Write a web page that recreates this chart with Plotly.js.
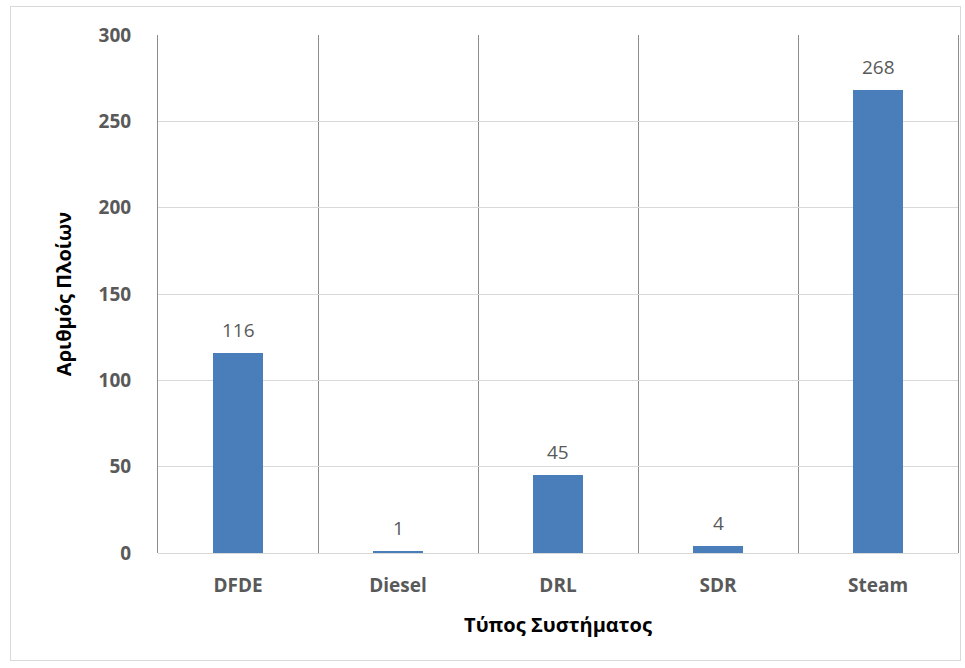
<!DOCTYPE html>
<html>
<head>
<meta charset="utf-8">
<script src="https://cdn.plot.ly/plotly-3.0.1.min.js"></script>
<style>
  html, body { margin: 0; padding: 0; background: #ffffff; }
  #frame { position: absolute; left: 10px; top: 6px; width: 951px; height: 655px; border: 1px solid #d9d9d9; box-sizing: border-box; pointer-events: none; z-index: 5; }
  #chart { width: 965px; height: 668px; }
</style>
</head>
<body>
<div id="frame"></div>
<div id="chart"></div>
<script>
const categories = ["DFDE", "Diesel", "DRL", "SDR", "Steam"];
const shipCounts = [116, 1, 45, 4, 268];
const yTickValues = [0, 50, 100, 150, 200, 250, 300];
const xTitle = "Τύπος Συστήματος";
const yTitle = "Αριθμός Πλοίων";

const FONT = "'Open Sans', 'Noto Sans', sans-serif";

const trace = {
  type: "bar",
  x: categories,
  y: shipCounts,
  width: 0.31,
  marker: { color: "#4a7ebb" },
  hoverinfo: "x+y"
};

const annotations = categories.map((c, i) => ({
  x: c,
  y: shipCounts[i],
  xref: "x",
  yref: "y",
  text: String(shipCounts[i]),
  showarrow: false,
  yanchor: "bottom",
  yshift: 8,
  font: { family: FONT, size: 19, color: "#595959" }
}));

const layout = {
  width: 965,
  height: 668,
  margin: { l: 158, r: 7, t: 35, b: 115 },
  paper_bgcolor: "#ffffff",
  plot_bgcolor: "#ffffff",
  showlegend: false,
  bargap: 0,
  xaxis: {
    type: "category",
    categoryorder: "array",
    categoryarray: categories,
    tickson: "boundaries",
    showgrid: true,
    gridcolor: "#8c8c8c",
    gridwidth: 1,
    ticks: "",
    ticklabelstandoff: 19,
    showline: false,
    zeroline: false,
    tickfont: { family: FONT, size: 19, color: "#595959", weight: "bold" },
    title: { text: xTitle, font: { family: FONT, size: 20, color: "#000000", weight: "bold" }, standoff: 20 }
  },
  yaxis: {
    range: [0, 300],
    tickvals: yTickValues,
    ticktext: yTickValues.map(String),
    showgrid: true,
    gridcolor: "#d9d9d9",
    gridwidth: 1,
    zeroline: true,
    zerolinecolor: "#d9d9d9",
    zerolinewidth: 1,
    showline: true,
    linecolor: "#8c8c8c",
    linewidth: 1,
    mirror: true,
    ticks: "",
    ticklabelstandoff: 22,
    tickfont: { family: FONT, size: 19, color: "#595959", weight: "bold" },
    title: { text: yTitle, font: { family: FONT, size: 20, color: "#000000", weight: "bold" }, standoff: 21 }
  },
  annotations: annotations
};

Plotly.newPlot("chart", [trace], layout, { displayModeBar: false, staticPlot: true });
</script>
</body>
</html>
